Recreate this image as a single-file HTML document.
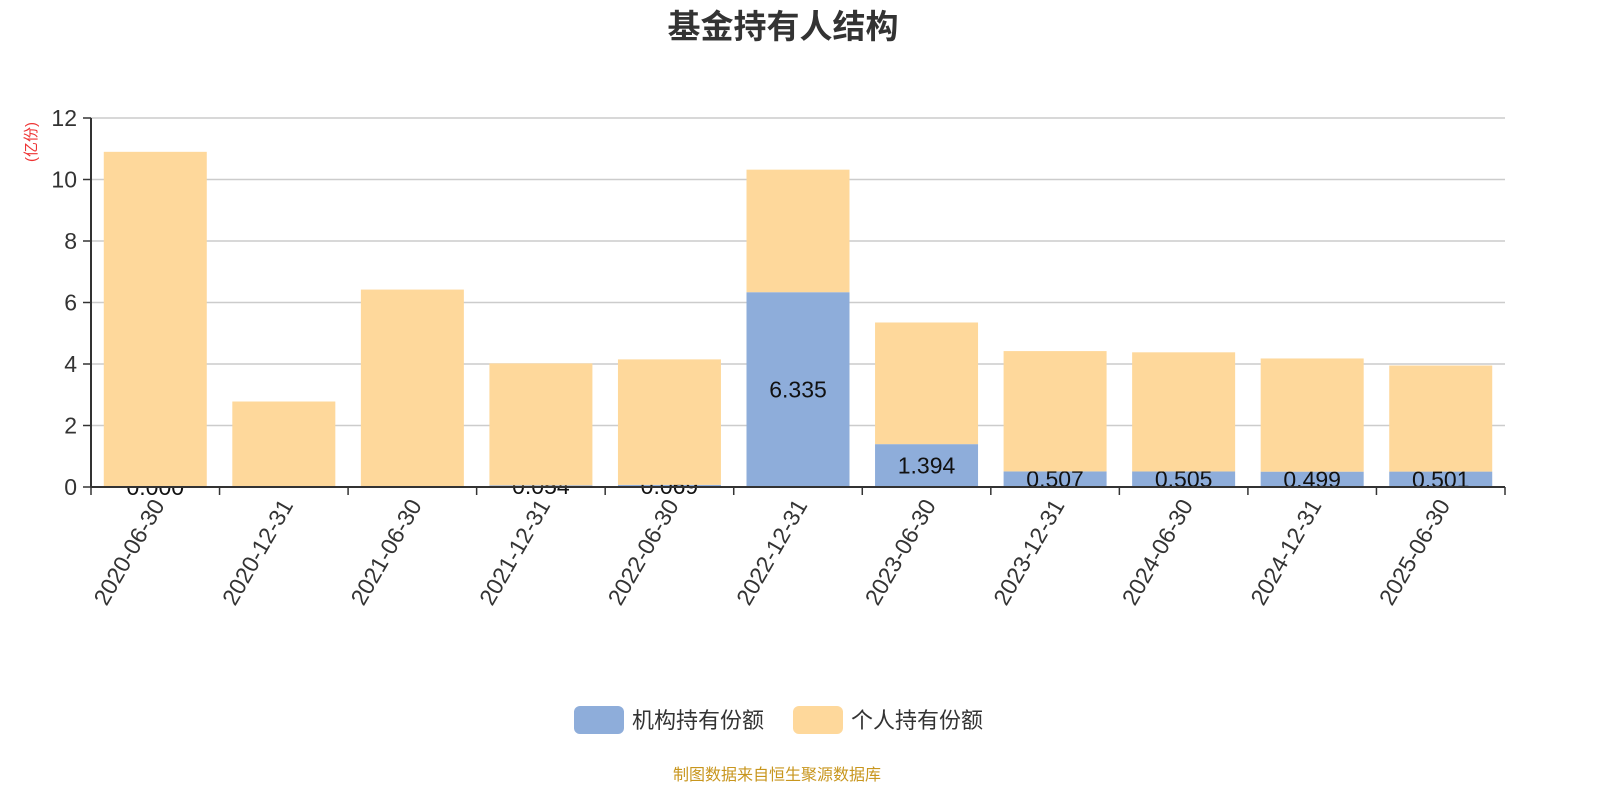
<!DOCTYPE html>
<html><head><meta charset="utf-8"><style>
body{margin:0;background:#fff;}
svg{display:block;font-family:"Liberation Sans","Noto Sans CJK SC",sans-serif;}
</style></head><body>
<svg id="c" width="1600" height="800">
<text x="783" y="38" text-anchor="middle" font-size="33" font-weight="bold" fill="#333">基金持有人结构</text>
<text transform="translate(36,142) rotate(-90)" text-anchor="middle" font-size="15" fill="#e33">(亿份)</text>
<g id="grid"></g><g id="bars"></g><g id="axes"></g>
<g>
<rect x="574" y="706" width="50" height="28" rx="6" fill="#8eadda"/>
<text x="632" y="728" font-size="22" fill="#333">机构持有份额</text>
<rect x="793" y="706" width="50" height="28" rx="6" fill="#fed89b"/>
<text x="851" y="728" font-size="22" fill="#333">个人持有份额</text>
</g>
<text x="777" y="780" text-anchor="middle" font-size="16" fill="#c8961e">制图数据来自恒生聚源数据库</text>
</svg>
<script>
const categories=["2020-06-30","2020-12-31","2021-06-30","2021-12-31","2022-06-30","2022-12-31","2023-06-30","2023-12-31","2024-06-30","2024-12-31","2025-06-30"];
const institution=[0.000,null,null,0.054,0.069,6.335,1.394,0.507,0.505,0.499,0.501];
const individual=[10.9,2.78,6.42,3.966,4.081,3.985,3.956,3.913,3.875,3.681,3.449];
const yTicks=[0,2,4,6,8,10,12];
const NS="http://www.w3.org/2000/svg";
const x0=91,x1=1505,y0=487,yTop=118,yMax=12;
const band=(x1-x0)/categories.length,bw=103;
const y=v=>y0-(v/yMax)*(y0-yTop);
const bx=i=>x0+band*i+(band-bw)/2;
function mk(tag,attrs,parent){const e=document.createElementNS(NS,tag);for(const k in attrs)e.setAttribute(k,attrs[k]);parent.appendChild(e);return e;}
const grid=document.getElementById('grid'),bars=document.getElementById('bars'),axes=document.getElementById('axes');
yTicks.forEach(t=>{
 if(t>0){const l=mk('line',{x1:x0,x2:x1,y1:y(t),y2:y(t),stroke:'#ccc','stroke-width':1.5},grid);
 
 }
 const tk=mk('line',{x1:x0-8,x2:x0,y1:y(t),y2:y(t),stroke:'#333','stroke-width':1.5},axes);
 
 
 const tx=mk('text',{x:x0-14,y:y(t)+8,'text-anchor':'end','font-size':23,fill:'#333'},axes);
 tx.textContent=t;
 
 
});
categories.forEach((c,i)=>{
 const a=institution[i]||0,b=individual[i];
 if(institution[i]!==null){
  const r=mk('rect',{x:bx(i),y:y(a),width:bw,height:y0-y(a),fill:'#8eadda'},bars);
  
  
  const t=mk('text',{x:bx(i)+bw/2,y:(y(a)+y0)/2+8,'text-anchor':'middle','font-size':23,fill:'#111'},bars);
  t.textContent=institution[i].toFixed(3);
  
  
 }
 const r2=mk('rect',{x:bx(i),y:y(a+b),width:bw,height:y(a)-y(a+b),fill:'#fed89b'},bars);
 
 
 const xt=x0+band*i;
 const tk=mk('line',{x1:xt,x2:xt,y1:y0,y2:y0+8,stroke:'#333','stroke-width':1.5},axes);
 
 
 const cx=x0+band*(i+0.5);
 const lb=mk('text',{transform:`translate(${cx+10},${y0+18}) rotate(-60)`,'text-anchor':'end','font-size':23,fill:'#333'},axes);
 lb.textContent=c;
 
 
});
const tkEnd=mk('line',{x1:x1,x2:x1,y1:y0,y2:y0+8,stroke:'#333','stroke-width':1.5},axes);


const ax=mk('line',{x1:x0,x2:x1,y1:y0,y2:y0,stroke:'#333','stroke-width':2},axes);


const ay=mk('line',{x1:x0,x2:x0,y1:yTop,y2:y0,stroke:'#333','stroke-width':2},axes);


</script>
</body></html>
